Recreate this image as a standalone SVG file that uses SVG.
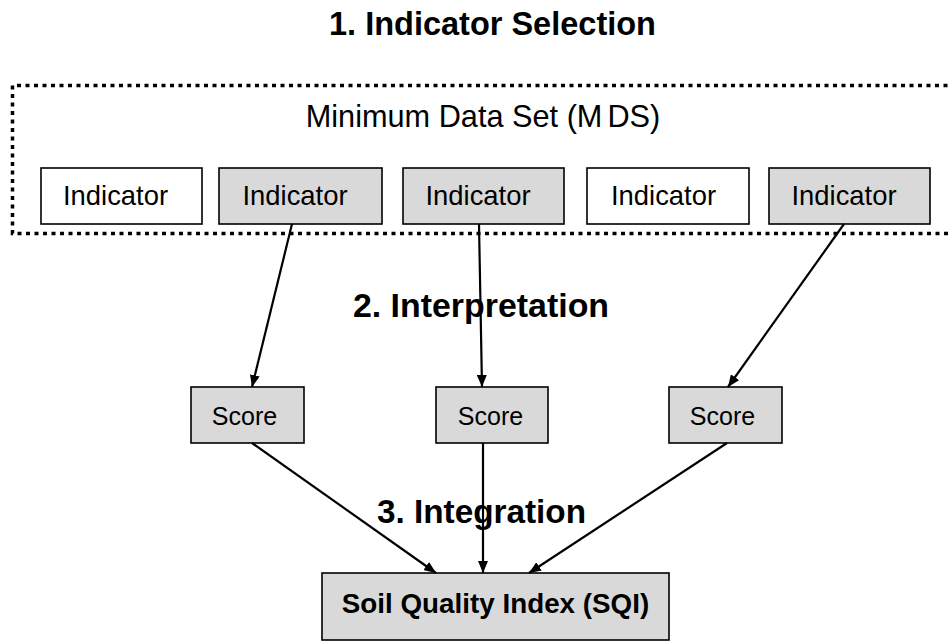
<svg xmlns="http://www.w3.org/2000/svg" width="951" height="642" viewBox="0 0 951 642">
  <defs>
    <style>
      text { font-family: "Liberation Sans", Arial, sans-serif; fill: #000; text-anchor: middle; }
      .stage { font-weight: bold; }
      .box { stroke: #000; stroke-width: 1.6; }
      .plain { fill: #fff; }
      .shaded { fill: #d9d9d9; }
      .ind { font-size: 27.4px; }
      .score { font-size: 25px; }
      .link { stroke: #000; stroke-width: 2.2; fill: none; marker-end: url(#arrow); }
    </style>
    <marker id="arrow" viewBox="0 0 12 10" refX="12" refY="5" markerWidth="12" markerHeight="10" markerUnits="userSpaceOnUse" orient="auto">
      <path d="M0,0 L12,5 L0,10 z" fill="#000"/>
    </marker>
  </defs>
  <rect width="951" height="642" fill="#fff"/>

  <!-- stage headings -->
  <text class="stage" x="492.5" y="35" font-size="32.5">1. Indicator Selection</text>
  <text class="stage" x="481" y="317" font-size="33.9">2. Interpretation</text>
  <text class="stage" x="481.5" y="523" font-size="33.3">3. Integration</text>

  <!-- minimum data set container -->
  <g id="mds">
    <path d="M956,85.5 H12.5 V233.5 H956" fill="none" stroke="#000" stroke-width="3.5" stroke-dasharray="4 4.5"/>
    <text x="483" y="127" font-size="30.7">Minimum Data Set (M<tspan dx="5">DS)</tspan></text>
  </g>

  <!-- indicators -->
  <g id="indicator-1">
    <rect class="box plain" x="41" y="168" width="161" height="56"/>
    <text class="ind" x="115.5" y="205">Indicator</text>
  </g>
  <g id="indicator-2">
    <rect class="box shaded" x="219" y="168" width="163" height="56"/>
    <text class="ind" x="295" y="205">Indicator</text>
  </g>
  <g id="indicator-3">
    <rect class="box shaded" x="403" y="168" width="161" height="56"/>
    <text class="ind" x="478" y="205">Indicator</text>
  </g>
  <g id="indicator-4">
    <rect class="box plain" x="587" y="168" width="162" height="56"/>
    <text class="ind" x="663.5" y="205">Indicator</text>
  </g>
  <g id="indicator-5">
    <rect class="box shaded" x="769" y="168" width="161" height="56"/>
    <text class="ind" x="844" y="205">Indicator</text>
  </g>

  <!-- scores -->
  <g id="score-1">
    <rect class="box shaded" x="191" y="387" width="113" height="56"/>
    <text class="score" x="244.5" y="425">Score</text>
  </g>
  <g id="score-2">
    <rect class="box shaded" x="436" y="387" width="112" height="56"/>
    <text class="score" x="490.5" y="425">Score</text>
  </g>
  <g id="score-3">
    <rect class="box shaded" x="669" y="387" width="113" height="56"/>
    <text class="score" x="722.5" y="425">Score</text>
  </g>

  <!-- soil quality index -->
  <g id="sqi">
    <rect class="box shaded" x="322" y="573" width="347" height="67"/>
    <text class="stage" x="495.5" y="613" font-size="27.8">Soil Quality Index (SQI)</text>
  </g>

  <!-- connectors -->
  <g id="connectors">
    <line class="link" x1="292" y1="224" x2="252" y2="387"/>
    <line class="link" x1="479" y1="224" x2="482" y2="387"/>
    <line class="link" x1="844" y1="224" x2="728" y2="387"/>
    <line class="link" x1="252" y1="443" x2="436" y2="573"/>
    <line class="link" x1="483" y1="443" x2="483" y2="573"/>
    <line class="link" x1="727" y1="443" x2="529" y2="573"/>
  </g>
</svg>
